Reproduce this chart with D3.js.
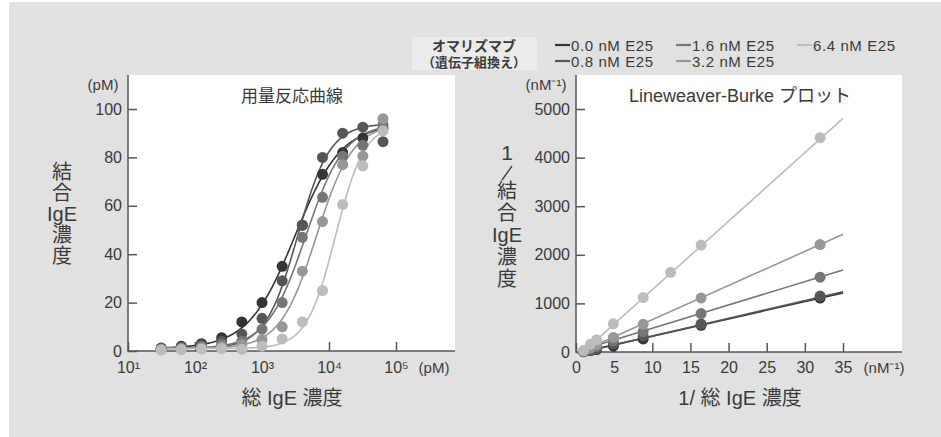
<!DOCTYPE html>
<html>
<head>
<meta charset="utf-8">
<script src="https://cdn.jsdelivr.net/npm/d3@7"></script>
<style>
  body { margin: 0; background: #fff; }
  svg text { font-family: "Liberation Sans", "Noto Sans CJK JP", sans-serif; fill: #3a3a3a; }
</style>
</head>
<body>
<div id="chart"></div>
<script>
// series (E25 concentration)
const seriesNames = ['0.0 nM E25', '0.8 nM E25', '1.6 nM E25', '3.2 nM E25', '6.4 nM E25'];
const seriesColors = ['#343434', '#565656', '#767676', '#979797', '#bcbcbc'];

// dose response: total IgE (pM) vs bound IgE (pM)
const doseConc = [31.25, 62.5, 125, 250, 500, 1000, 2000, 4000, 8000, 16000, 32000, 64000];
const boundIgE = [
  [1.2, 2, 3, 5.5, 12, 20, 35, 52, 73, 82, 88, 92],
  [1, 1.6, 2.5, 4, 7, 13.5, 29, 52, 80, 90, 92.5, 86.5],
  [0.8, 1.2, 1.8, 2.8, 4, 9, 20, 47, 63.5, 80.5, 85, 93.5],
  [0.6, 0.9, 1.3, 1.8, 2.7, 4.8, 10, 33, 53.5, 77, 80.5, 96],
  [0.4, 0.6, 0.8, 1, 0.7, 2, 5, 12, 25, 60.5, 76.5, 91]
];
// fitted curve parameters
const fitTop = [93, 93, 93, 93, 93];
const fitEC50 = [3100, 3400, 4500, 6500, 12500];
const fitHill = [1.25, 1.8, 1.5, 1.6, 2.0];

// Lineweaver-Burke: 1/total IgE (nM-1) vs 1/bound IgE (nM-1)
const lbX = [
  [1.0, 1.9, 2.7, 4.9, 8.8, 16.4, 32],
  [1.0, 1.9, 2.7, 4.9, 8.8, 16.4, 32],
  [1.0, 1.9, 2.7, 4.9, 8.8, 16.4, 32],
  [1.0, 1.9, 2.7, 4.9, 8.8, 16.4, 32],
  [1.0, 1.9, 2.7, 4.9, 8.8, 12.4, 16.4, 32]
];
const lbY = [
  [5, 30, 50, 120, 270, 550, 1110],
  [10, 40, 70, 170, 330, 575, 1150],
  [15, 60, 110, 230, 420, 790, 1540],
  [20, 90, 150, 300, 570, 1110, 2210],
  [30, 160, 250, 580, 1120, 1640, 2200, 4410]
];
const lbSlope = [35.6, 36.6, 48, 70.2, 141];
const lbIntercept = [-30, -40, 7, -36, -129];

const leftTicksX = [1e1, 1e2, 1e3, 1e4, 1e5];
const leftTicksY = [0, 20, 40, 60, 80, 100];
const rightTicksX = [0, 5, 10, 15, 20, 25, 30, 35];
const rightTicksY = [0, 1000, 2000, 3000, 4000, 5000];

const width = 941, height = 437;
const svg = d3.select('#chart').append('svg')
  .attr('width', width).attr('height', height);

svg.append('rect').attr('x', 9).attr('y', 2)
  .attr('width', width - 9).attr('height', height - 2).attr('fill', '#e1e1e1');

const sup = ['⁰', '¹', '²', '³', '⁴', '⁵'];

// ---------- left: dose response ----------
const lx = d3.scaleLog().domain([10, 1e5]).range([128, 396]);
const ly = d3.scaleLinear().domain([0, 100]).range([351, 109]);
const L = svg.append('g');

L.append('rect').attr('x', 128).attr('y', 75).attr('width', 327).attr('height', 276).attr('fill', '#fff');

L.append('g').attr('transform', 'translate(0,351)')
  .call(d3.axisBottom(lx).tickValues(leftTicksX).tickSizeInner(-9).tickSizeOuter(0).tickPadding(11)
    .tickFormat(d => '10' + sup[Math.round(Math.log10(d))]))
  .call(g => g.select('.domain').remove())
  .call(g => g.selectAll('line').attr('stroke', '#555').attr('stroke-width', 1.5))
  .call(g => g.selectAll('text').attr('font-size', 16).attr('fill', '#3a3a3a').attr('font-family', null));

L.append('g').attr('transform', 'translate(128,0)')
  .call(d3.axisLeft(ly).tickValues(leftTicksY).tickSizeInner(-9).tickSizeOuter(0).tickPadding(6))
  .call(g => g.select('.domain').remove())
  .call(g => g.selectAll('line').attr('stroke', '#555').attr('stroke-width', 1.5))
  .call(g => g.selectAll('text').attr('font-size', 16).attr('fill', '#3a3a3a').attr('font-family', null));

L.append('path').attr('d', 'M128,75V351H455').attr('fill', 'none').attr('stroke', '#555').attr('stroke-width', 1.5);

const curveX = d3.range(Math.log10(31), Math.log10(72000), 0.02).map(v => Math.pow(10, v));
const hill = i => x => 1 + fitTop[i] * Math.pow(x / fitEC50[i], fitHill[i]) / (1 + Math.pow(x / fitEC50[i], fitHill[i]));
const lineL = d3.line().x(d => lx(d[0])).y(d => ly(d[1])).curve(d3.curveBasis);

seriesNames.forEach((s, i) => {
  L.append('path').datum(curveX.map(x => [x, hill(i)(x)]))
    .attr('d', lineL).attr('fill', 'none').attr('stroke', seriesColors[i]).attr('stroke-width', 1.6);
});
seriesNames.forEach((s, i) => {
  L.append('g').selectAll('circle').data(doseConc.map((c, j) => [c, boundIgE[i][j]]))
    .join('circle').attr('cx', d => lx(d[0])).attr('cy', d => ly(d[1])).attr('r', 5.5)
    .attr('fill', seriesColors[i]);
});

L.append('text').attr('x', 292).attr('y', 96).attr('text-anchor', 'middle').attr('font-size', 17)
  .attr('dominant-baseline', 'central').text('用量反応曲線');
L.append('text').attr('x', 103).attr('y', 84).attr('text-anchor', 'middle').attr('font-size', 15)
  .attr('dominant-baseline', 'central').text('(pM)');
L.append('text').attr('x', 434).attr('y', 367).attr('text-anchor', 'middle').attr('font-size', 15)
  .attr('dominant-baseline', 'central').text('(pM)');
L.append('text').attr('x', 292).attr('y', 398).attr('text-anchor', 'middle').attr('font-size', 20)
  .attr('dominant-baseline', 'central').text('総 IgE 濃度');
['結', '合', 'IgE', '濃', '度'].forEach((t, k) => {
  L.append('text').attr('x', 62).attr('y', 172 + k * 21).attr('text-anchor', 'middle')
    .attr('font-size', 20).attr('dominant-baseline', 'central').text(t);
});

// ---------- right: Lineweaver-Burke ----------
const rx = d3.scaleLinear().domain([0, 35]).range([576, 843]);
const ry = d3.scaleLinear().domain([0, 5000]).range([352, 109]);
const R = svg.append('g');

R.append('rect').attr('x', 576).attr('y', 75).attr('width', 326).attr('height', 277).attr('fill', '#fff');

R.append('g').attr('transform', 'translate(0,352)')
  .call(d3.axisBottom(rx).tickValues(rightTicksX).tickSizeInner(-9).tickSizeOuter(0).tickPadding(10))
  .call(g => g.select('.domain').remove())
  .call(g => g.selectAll('line').attr('stroke', '#555').attr('stroke-width', 1.5))
  .call(g => g.selectAll('text').attr('font-size', 16).attr('fill', '#3a3a3a').attr('font-family', null));

R.append('g').attr('transform', 'translate(576,0)')
  .call(d3.axisLeft(ry).tickValues(rightTicksY).tickFormat(d3.format('d'))
    .tickSizeInner(-9).tickSizeOuter(0).tickPadding(6))
  .call(g => g.select('.domain').remove())
  .call(g => g.selectAll('line').attr('stroke', '#555').attr('stroke-width', 1.5))
  .call(g => g.selectAll('text').attr('font-size', 16).attr('fill', '#3a3a3a').attr('font-family', null));

R.append('path').attr('d', 'M576,75V352H902').attr('fill', 'none').attr('stroke', '#555').attr('stroke-width', 1.5);

const lineR = d3.line().x(d => rx(d[0])).y(d => ry(d[1]));
seriesNames.forEach((s, i) => {
  const ends = [0.9, 35].map(x => [x, lbSlope[i] * x + lbIntercept[i]]);
  R.append('path').datum(ends).attr('d', lineR).attr('fill', 'none')
    .attr('stroke', seriesColors[i]).attr('stroke-width', 1.6);
});
seriesNames.forEach((s, i) => {
  R.append('g').selectAll('circle').data(lbX[i].map((x, j) => [x, lbY[i][j]]))
    .join('circle').attr('cx', d => rx(d[0])).attr('cy', d => ry(d[1])).attr('r', 5.5)
    .attr('fill', seriesColors[i]);
});

R.append('text').attr('x', 740).attr('y', 96).attr('text-anchor', 'middle').attr('font-size', 18)
  .attr('dominant-baseline', 'central').text('Lineweaver-Burke プロット');
R.append('text').attr('x', 546).attr('y', 84).attr('text-anchor', 'middle').attr('font-size', 15)
  .attr('dominant-baseline', 'central').text('(nM⁻¹)');
R.append('text').attr('x', 884).attr('y', 367).attr('text-anchor', 'middle').attr('font-size', 15)
  .attr('dominant-baseline', 'central').text('(nM⁻¹)');
R.append('text').attr('x', 740).attr('y', 398).attr('text-anchor', 'middle').attr('font-size', 20)
  .attr('dominant-baseline', 'central').text('1/ 総 IgE 濃度');
R.append('text').attr('x', 507).attr('y', 152).attr('text-anchor', 'middle').attr('font-size', 21)
  .attr('dominant-baseline', 'central').text('1');
R.append('line').attr('x1', 502).attr('y1', 180).attr('x2', 512).attr('y2', 166)
  .attr('stroke', '#3a3a3a').attr('stroke-width', 1.3);
['結', '合', 'IgE', '濃', '度'].forEach((t, k) => {
  R.append('text').attr('x', 507).attr('y', 191 + k * 22).attr('text-anchor', 'middle')
    .attr('font-size', 20).attr('dominant-baseline', 'central').text(t);
});

// ---------- legend ----------
const lg = svg.append('g');
lg.append('rect').attr('x', 412).attr('y', 37).attr('width', 125).attr('height', 33).attr('fill', '#ebebeb');
lg.append('text').attr('x', 474).attr('y', 46).attr('text-anchor', 'middle').attr('font-size', 14)
  .attr('font-weight', 'bold').attr('dominant-baseline', 'central').text('オマリズマブ');
lg.append('text').attr('x', 474).attr('y', 62).attr('text-anchor', 'middle').attr('font-size', 13)
  .attr('font-weight', 'bold').attr('dominant-baseline', 'central').text('（遺伝子組換え）');

seriesNames.forEach((s, i) => {
  const gx = 555 + Math.floor(i / 2) * 121, gy = 45 + (i % 2) * 16;
  lg.append('line').attr('x1', gx).attr('x2', gx + 15).attr('y1', gy).attr('y2', gy)
    .attr('stroke', seriesColors[i]).attr('stroke-width', 2.2);
  lg.append('text').attr('x', gx + 16).attr('y', gy).attr('font-size', 15).attr('letter-spacing', 0.6)
    .attr('dominant-baseline', 'central').text(s);
});
</script>
</body>
</html>
